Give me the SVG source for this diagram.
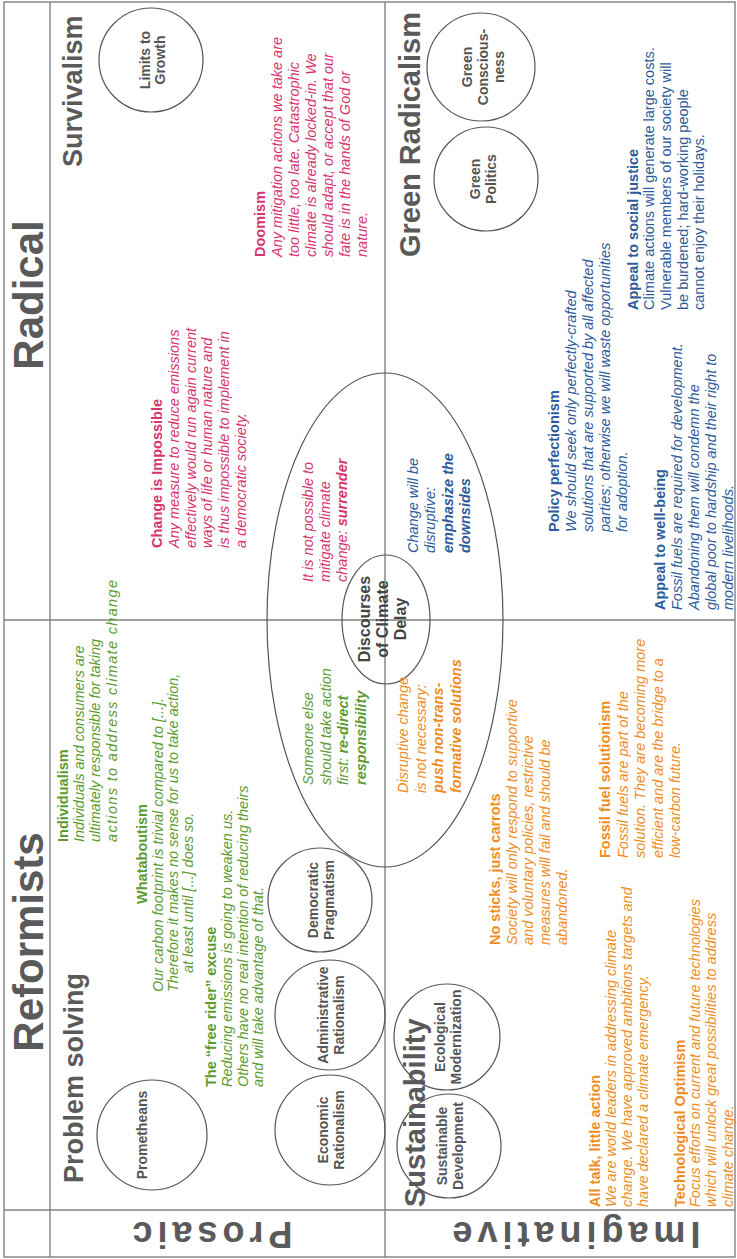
<svg xmlns="http://www.w3.org/2000/svg" width="737" height="1259" viewBox="0 0 737 1259">
<style>
text{font-family:"Liberation Sans",Arial,Helvetica,sans-serif}
.hd{font-size:42px;font-weight:bold;fill:#5a5a5a;text-anchor:middle}
.sub{font-size:27px;font-weight:bold;fill:#5a5a5a}
.row{font-size:36px;font-weight:bold;fill:#5a5a5a;letter-spacing:5px;text-anchor:middle}
.cl{font-size:14px;font-weight:bold;fill:#555;text-anchor:middle}
.cd{font-size:16px;font-weight:bold;fill:#444;text-anchor:middle}
.d{font-size:14.5px;font-style:italic}
.t{font-weight:bold;font-style:normal}
.b{font-weight:bold}
.n{font-style:normal}
.g{fill:#5c9b2f}
.p{fill:#d8336f}
.o{fill:#f08c1e}
.u{fill:#2d5b9b}
.grid{stroke:#808080;stroke-width:1.4;fill:none}
.shape{stroke:#555;stroke-width:1.2;fill:none}
</style>
<rect width="737" height="1259" fill="#fff"/>
<g transform="translate(0,1259) rotate(-90)">
 <g id="grid" class="grid">
  <rect x="2" y="4" width="1255" height="731"/>
  <line x1="2" y1="50" x2="1257" y2="50"/>
  <line x1="49" y1="4" x2="49" y2="735"/>
  <line x1="639" y1="4" x2="639" y2="735"/>
  <line x1="2" y1="385" x2="1257" y2="385"/>
 </g>
 <g id="headers">
  <text class="hd" x="317" y="43">Reformists</text>
  <text class="hd" x="964" y="43">Radical</text>
  <text class="row" transform="translate(37,210) rotate(-90)">Prosaic</text>
  <text class="row" transform="translate(37,574) rotate(-90)">Imaginative</text>
  <text class="sub" x="76" y="83">Problem solving</text>
  <text class="sub" x="1092" y="82">Survivalism</text>
  <text class="sub" x="52" y="425" style="font-size:29px">Sustainability</text>
  <text class="sub" x="1002" y="420" style="font-size:29px">Green Radicalism</text>
 </g>
 <g id="delay-ellipse">
  <ellipse class="shape" cx="639" cy="385" rx="247" ry="118"/>
  <ellipse class="shape" cx="639.5" cy="386" rx="64.5" ry="44"/>
  <text class="cd"><tspan x="640" y="370">Discourses</tspan><tspan x="640" y="388">of Climate</tspan><tspan x="640" y="406">Delay</tspan></text>
 </g>
 <g id="limits-to-growth"><circle class="shape" cx="1199" cy="151" r="52"/><text class="cl"><tspan x="1199" y="150">Limits to</tspan><tspan x="1199" y="165">Growth</tspan></text></g>
 <g id="green-consciousness"><circle class="shape" cx="1192" cy="481" r="54"/><text class="cl"><tspan x="1192" y="472">Green</tspan><tspan x="1192" y="488">Conscious-</tspan><tspan x="1192" y="504">ness</tspan></text></g>
 <g id="green-politics"><circle class="shape" cx="1080" cy="486" r="52"/><text class="cl"><tspan x="1080" y="480">Green</tspan><tspan x="1080" y="496">Politics</tspan></text></g>
 <g id="prometheans"><circle class="shape" cx="124" cy="152" r="55"/><text class="cl" x="124" y="147">Prometheans</text></g>
 <g id="economic-rationalism"><circle class="shape" cx="129" cy="330" r="55"/><text class="cl"><tspan x="129" y="328">Economic</tspan><tspan x="129" y="344">Rationalism</tspan></text></g>
 <g id="administrative-rationalism"><circle class="shape" cx="244" cy="330" r="55"/><text class="cl"><tspan x="244" y="328">Administrative</tspan><tspan x="244" y="344">Rationalism</tspan></text></g>
 <g id="democratic-pragmatism"><circle class="shape" cx="359" cy="320" r="52"/><text class="cl"><tspan x="359" y="318">Democratic</tspan><tspan x="359" y="334">Pragmatism</tspan></text></g>
 <g id="sustainable-development"><circle class="shape" cx="113" cy="449" r="52"/><text class="cl"><tspan x="113" y="447">Sustainable</tspan><tspan x="113" y="463">Development</tspan></text></g>
 <g id="ecological-modernization"><circle class="shape" cx="222" cy="447" r="53"/><text class="cl"><tspan x="222" y="445">Ecological</tspan><tspan x="222" y="461">Modernization</tspan></text></g>

 <g id="doomism"><text class="d p"><tspan class="t" x="1002" y="265">Doomism</tspan><tspan x="1002" y="282">Any mitigation actions we take are</tspan><tspan x="1002" y="299">too little, too late. Catastrophic</tspan><tspan x="1002" y="316">climate is already locked-in. We</tspan><tspan x="1002" y="333">should adapt, or accept that our</tspan><tspan x="1002" y="350">fate is in the hands of God or</tspan><tspan x="1002" y="367">nature.</tspan></text></g>
 <g id="change-impossible"><text class="d p"><tspan class="t" x="711" y="162">Change is Impossible</tspan><tspan x="711" y="179">Any measure to reduce emissions</tspan><tspan x="711" y="196">effectively would run again current</tspan><tspan x="711" y="212">ways of life or human nature and</tspan><tspan x="711" y="229">is thus impossible to implement in</tspan><tspan x="711" y="246">a democratic society.</tspan></text></g>
 <g id="surrender"><text class="d p"><tspan x="677" y="313">It is not possible to</tspan><tspan x="677" y="330">mitigate climate</tspan><tspan x="677" y="347">change: <tspan class="b">surrender</tspan></tspan></text></g>
 <g id="downsides"><text class="d u"><tspan x="706" y="418">Change will be</tspan><tspan x="706" y="435">disruptive:</tspan><tspan class="b" x="706" y="453">emphasize the</tspan><tspan class="b" x="706" y="470">downsides</tspan></text></g>
 <g id="policy-perfectionism"><text class="d u"><tspan class="t" x="727" y="559">Policy perfectionism</tspan><tspan x="727" y="576">We should seek only perfectly-crafted</tspan><tspan x="727" y="593">solutions that are supported by all affected</tspan><tspan x="727" y="610">parties; otherwise we will waste opportunities</tspan><tspan x="727" y="627">for adoption.</tspan></text></g>
 <g id="social-justice"><text class="d u n"><tspan class="t" x="949" y="638">Appeal to social justice</tspan><tspan x="949" y="654">Climate actions will generate large costs.</tspan><tspan x="949" y="671">Vulnerable members of our society will</tspan><tspan x="949" y="688">be burdened; hard-working people</tspan><tspan x="949" y="704">cannot enjoy their holidays.</tspan></text></g>
 <g id="well-being"><text class="d u"><tspan class="t" x="649" y="665">Appeal to well-being</tspan><tspan x="649" y="682">Fossil fuels are required for development.</tspan><tspan x="649" y="699">Abandoning them will condemn the</tspan><tspan x="649" y="716">global poor to hardship and their right to</tspan><tspan x="649" y="733">modern livelihoods.</tspan></text></g>

 <g id="individualism"><text class="d g"><tspan class="t" x="417" y="68">Individualism</tspan><tspan x="417" y="84">Individuals and consumers are</tspan><tspan x="417" y="100">ultimately responsible for taking</tspan><tspan x="417" y="117" textLength="262" lengthAdjust="spacing">actions to address climate change</tspan></text></g>
 <g id="whataboutism"><text class="d g"><tspan class="t" x="405" y="147" text-anchor="middle">Whataboutism</tspan><tspan x="267" y="163">Our carbon footprint is trivial compared to [...].</tspan><tspan x="267" y="178">Therefore it makes no sense for us to take action,</tspan><tspan x="286" y="193">at least until [...] does so.</tspan></text></g>
 <g id="free-rider"><text class="d g"><tspan class="t" x="172" y="216">The “free rider” excuse</tspan><tspan x="172" y="232">Reducing emissions is going to weaken us.</tspan><tspan x="172" y="248">Others have no real intention of reducing theirs</tspan><tspan x="172" y="263">and will take advantage of that.</tspan></text></g>
 <g id="redirect"><text class="d g"><tspan x="474" y="313">Someone else</tspan><tspan x="474" y="331">should take action</tspan><tspan x="474" y="348">first: <tspan class="b">re-direct</tspan></tspan><tspan class="b" x="474" y="366">responsibility</tspan></text></g>

 <g id="non-transformative"><text class="d o"><tspan x="466" y="408">Disruptive change</tspan><tspan x="466" y="426">is not necessary:</tspan><tspan class="b" x="466" y="443">push non-trans-</tspan><tspan class="b" x="466" y="461">formative solutions</tspan></text></g>
 <g id="no-sticks"><text class="d o"><tspan class="t" x="314" y="500">No sticks, just carrots</tspan><tspan x="314" y="517">Society will only respond to supportive</tspan><tspan x="314" y="533">and voluntary policies, restrictive</tspan><tspan x="314" y="550">measures will fail and should be</tspan><tspan x="314" y="567">abandoned.</tspan></text></g>
 <g id="fossil-fuel"><text class="d o"><tspan class="t" x="401" y="610">Fossil fuel solutionism</tspan><tspan x="401" y="628">Fossil fuels are part of the</tspan><tspan x="401" y="645">solution. They are becoming more</tspan><tspan x="401" y="663">efficient and are the bridge to a</tspan><tspan x="401" y="680">low-carbon future.</tspan></text></g>
 <g id="all-talk"><text class="d o"><tspan class="t" x="52" y="600">All talk, little action</tspan><tspan x="52" y="616">We are world leaders in addressing climate</tspan><tspan x="52" y="632">change. We have approved ambitions targets and</tspan><tspan x="52" y="648">have declared a climate emergency.</tspan></text></g>
 <g id="tech-optimism"><text class="d o"><tspan class="t" x="52" y="685">Technological Optimism</tspan><tspan x="52" y="700">Focus efforts on current and future technologies</tspan><tspan x="52" y="716">which will unlock great possibilities to address</tspan><tspan x="52" y="733">climate change.</tspan></text></g>
</g>
</svg>
